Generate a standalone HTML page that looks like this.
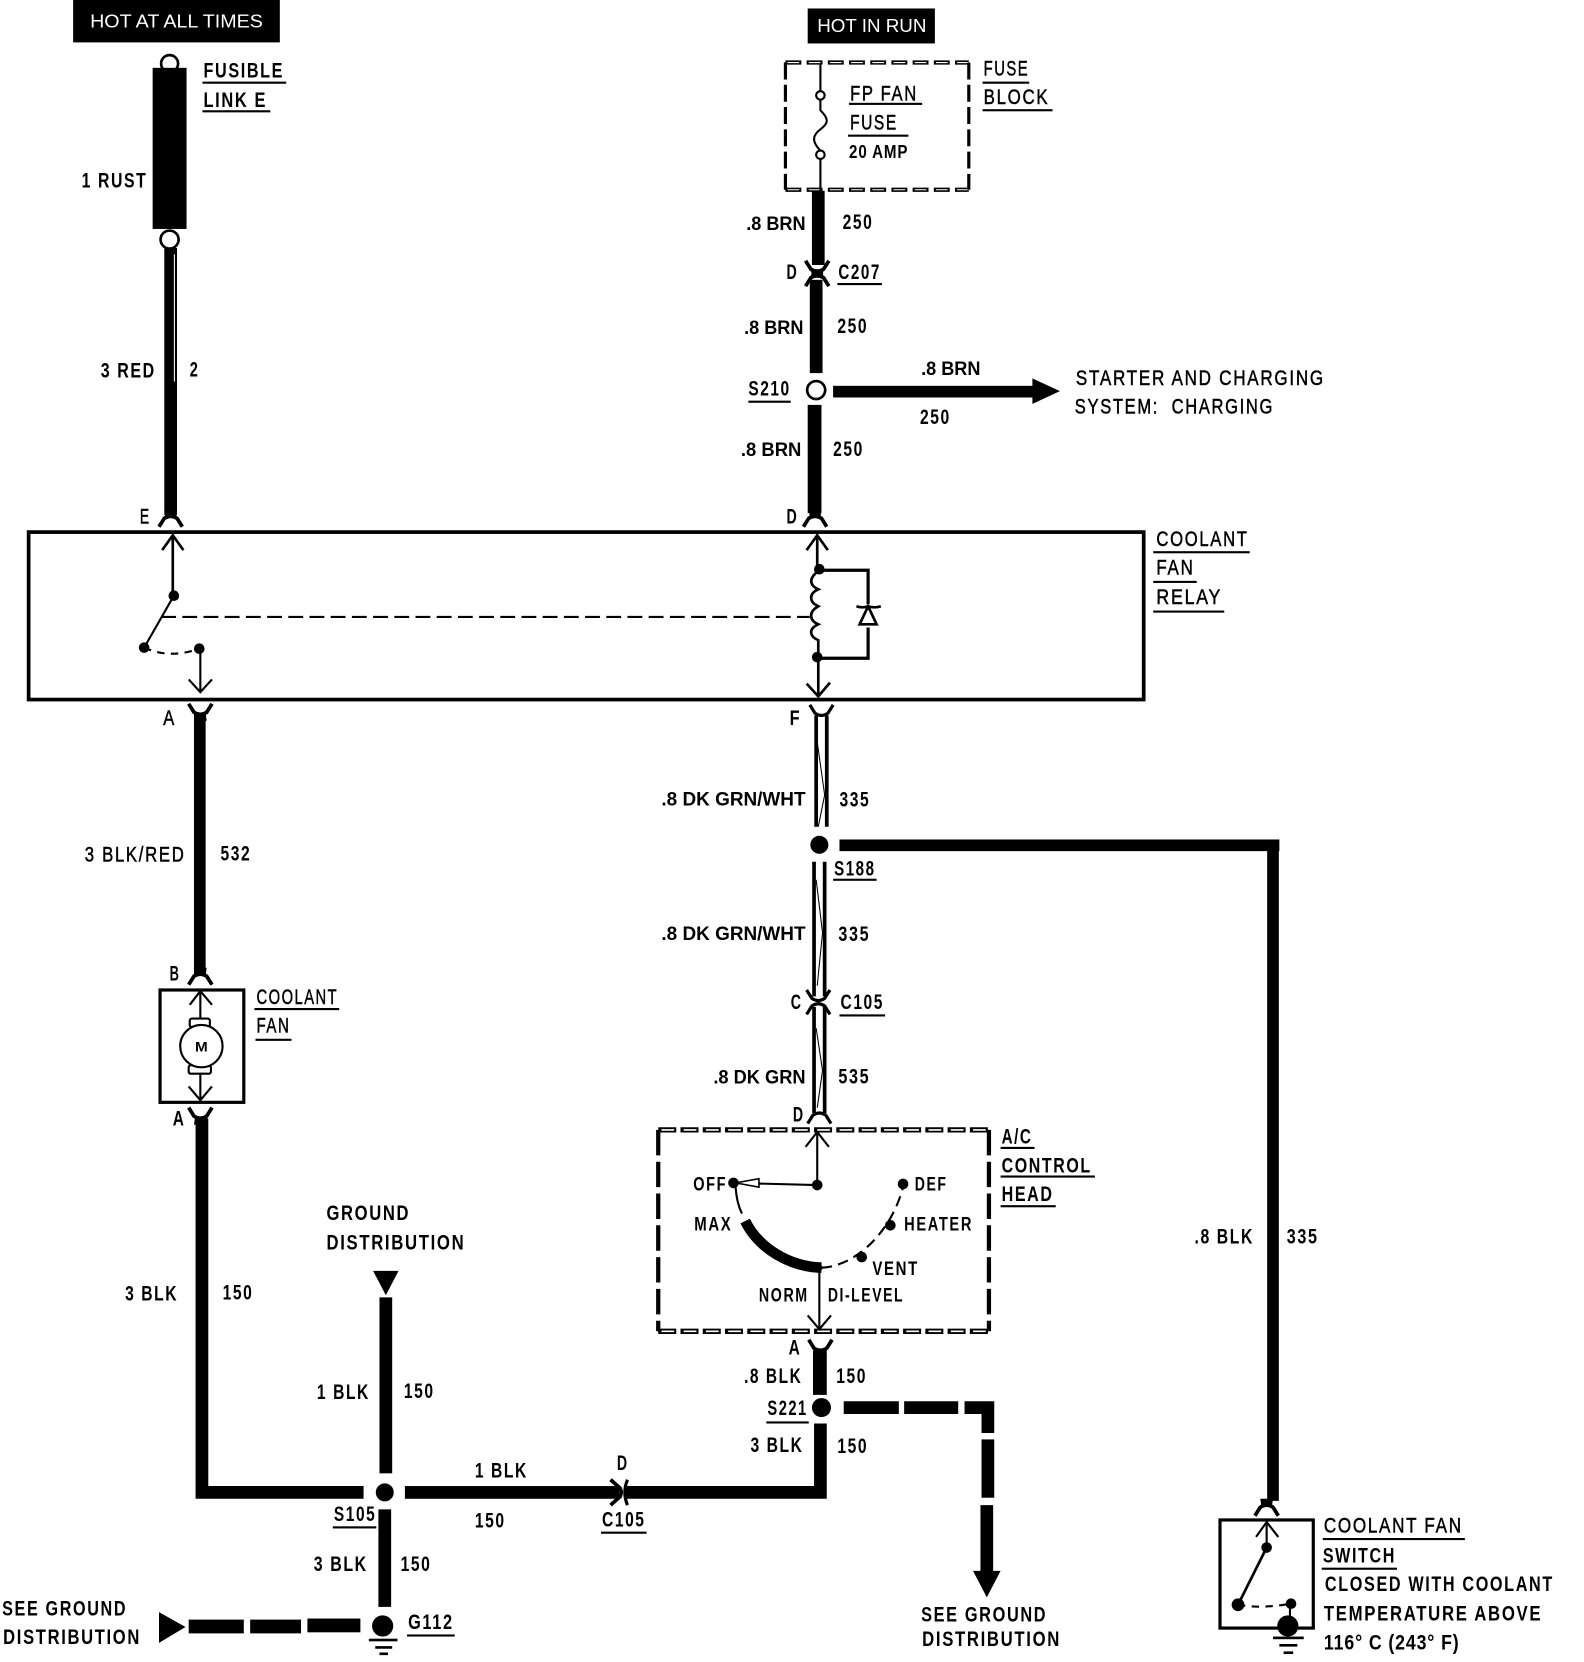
<!DOCTYPE html>
<html><head><meta charset="utf-8"><title>Coolant fan wiring</title>
<style>
html,body{margin:0;padding:0;background:#fff}
svg{display:block}
text{font-family:"Liberation Sans",sans-serif;font-size:20px;font-weight:bold;fill:#000;letter-spacing:2px}
text.n{font-weight:normal;stroke:#000;stroke-width:.45}
text.p{letter-spacing:0;font-size:18px}
.w{stroke:#000;fill:none}
</style></head><body>
<svg width="1584" height="1662" viewBox="0 0 1494.4 1568" xmlns="http://www.w3.org/2000/svg">
<defs>
<g id="dn"><path d="M-11,7 L-6,-1 Q0,-5 6,-1 L11,7" fill="none" stroke="#000" stroke-width="3.5"/><path d="M-6,-9H6L5,-2H-5Z" fill="#000"/></g>
<g id="up"><path d="M-11,-7 L-6,1 Q0,5 6,1 L11,-7" fill="none" stroke="#000" stroke-width="3.5"/><path d="M-6,9H6L5,2H-5Z" fill="#000"/></g>
<g id="dnh"><path d="M-11,7 L-6,-1 Q0,-5 6,-1 L11,7" fill="none" stroke="#000" stroke-width="3"/></g>
<g id="uph"><path d="M-11,-7 L-6,1 Q0,5 6,1 L11,-7" fill="none" stroke="#000" stroke-width="3"/></g>
</defs>
<rect width="1494.4" height="1568" fill="#fff"/>

<!-- top labels -->
<rect x="69" y="0" width="195" height="40" fill="#000"/>
<text x="85" y="26" textLength="163" lengthAdjust="spacingAndGlyphs" style="fill:#fff;font-size:17px;font-weight:normal;letter-spacing:0">HOT AT ALL TIMES</text>
<rect x="762" y="8" width="120" height="33" fill="#000"/>
<text x="771" y="30" textLength="103" lengthAdjust="spacingAndGlyphs" style="fill:#fff;font-size:17px;font-weight:normal;letter-spacing:0">HOT IN RUN</text>

<!-- fusible link -->
<circle cx="160" cy="60" r="8" fill="#fff" stroke="#000" stroke-width="2.5"/>
<rect x="144" y="64" width="32" height="152" fill="#000"/>
<circle cx="160" cy="226" r="8.5" fill="#fff" stroke="#000" stroke-width="2.5"/>
<rect x="155" y="234" width="12" height="252" fill="#000"/>
<line x1="164.5" y1="240" x2="164.5" y2="360" stroke="#fff" stroke-width="1"/>
<use href="#dn" x="161" y="490"/>
<text x="192" y="73" textLength="76" lengthAdjust="spacingAndGlyphs">FUSIBLE</text>
<rect x="191" y="77" width="79" height="2"/>
<text x="192" y="101" textLength="60" lengthAdjust="spacingAndGlyphs">LINK E</text>
<rect x="191" y="104" width="64" height="2"/>
<text x="77" y="177" textLength="62" lengthAdjust="spacingAndGlyphs">1 RUST</text>
<text x="95" y="356" textLength="52" lengthAdjust="spacingAndGlyphs">3 RED</text>
<text x="179" y="355" textLength="9" lengthAdjust="spacingAndGlyphs">2</text>
<text class="n" x="132" y="494" textLength="10" lengthAdjust="spacingAndGlyphs">E</text>

<!-- fuse block -->
<path d="M741,59H914M741,179H914" class="w" stroke-width="4" stroke-dasharray="15 5"/>
<path d="M741,59H914M741,179H914" stroke="#fff" fill="none" stroke-width="1" stroke-dasharray="11 9" stroke-dashoffset="-2"/>
<path d="M741,59V179M914,59V179" class="w" stroke-width="3" stroke-dasharray="16 5"/>
<path d="M774,60V86M774,94 V104 C782,112 782,116 774,122 C766,128 766,134 774,142 M774,150V180" class="w" stroke-width="2"/>
<circle cx="774" cy="90" r="4" fill="#fff" stroke="#000" stroke-width="2"/>
<circle cx="774" cy="146" r="4" fill="#fff" stroke="#000" stroke-width="2"/>
<text class="n" x="802" y="95" textLength="64" lengthAdjust="spacingAndGlyphs">FP FAN</text>
<rect x="801" y="97" width="69" height="2"/>
<text class="n" x="802" y="122" textLength="45" lengthAdjust="spacingAndGlyphs">FUSE</text>
<rect x="800" y="127" width="57" height="2"/>
<text x="801" y="149" textLength="56" lengthAdjust="spacingAndGlyphs" style="font-size:17px;letter-spacing:1px">20 AMP</text>
<text class="n" x="928" y="71" textLength="43" lengthAdjust="spacingAndGlyphs">FUSE</text>
<rect x="927" y="77" width="44" height="2"/>
<text class="n" x="928" y="98" textLength="62" lengthAdjust="spacingAndGlyphs">BLOCK</text>
<rect x="927" y="103" width="66" height="2"/>

<!-- brown wires -->
<rect x="766" y="180" width="12" height="70" fill="#000"/>
<use href="#up" x="771" y="253"/>
<use href="#dn" x="771" y="263"/>
<rect x="764" y="264" width="12" height="88" fill="#000"/>
<circle cx="770" cy="368" r="8.5" fill="#fff" stroke="#000" stroke-width="2.5"/>
<rect x="762" y="382" width="13" height="102" fill="#000"/>
<use href="#dn" x="769" y="490"/>
<text class="p" x="704" y="217" textLength="56" lengthAdjust="spacingAndGlyphs">.8 BRN</text>
<text x="795" y="216" textLength="29" lengthAdjust="spacingAndGlyphs">250</text>
<text x="742" y="263" textLength="11" lengthAdjust="spacingAndGlyphs">D</text>
<text x="791" y="263" textLength="40" lengthAdjust="spacingAndGlyphs">C207</text>
<rect x="790" y="267" width="42" height="2"/>
<text class="p" x="702" y="315" textLength="56" lengthAdjust="spacingAndGlyphs">.8 BRN</text>
<text x="790" y="314" textLength="29" lengthAdjust="spacingAndGlyphs">250</text>
<text x="706" y="373" textLength="40" lengthAdjust="spacingAndGlyphs">S210</text>
<rect x="706" y="378" width="40" height="2"/>
<text class="p" x="699" y="430" textLength="57" lengthAdjust="spacingAndGlyphs">.8 BRN</text>
<text x="786" y="430" textLength="29" lengthAdjust="spacingAndGlyphs">250</text>
<text x="742" y="494" textLength="11" lengthAdjust="spacingAndGlyphs">D</text>
<rect x="786" y="364" width="190" height="11" fill="#000"/>
<path d="M974,357 L1000,369 L974,381Z" fill="#000"/>
<text class="p" x="869" y="354" textLength="56" lengthAdjust="spacingAndGlyphs">.8 BRN</text>
<text x="868" y="400" textLength="29" lengthAdjust="spacingAndGlyphs">250</text>
<text class="n" x="1015" y="363" textLength="235" lengthAdjust="spacingAndGlyphs">STARTER AND CHARGING</text>
<text class="n" x="1014" y="390" textLength="188" lengthAdjust="spacingAndGlyphs">SYSTEM:&#160;&#160;CHARGING</text>

<!-- relay -->
<rect x="27" y="502" width="1052" height="158" fill="none" stroke="#000" stroke-width="3.5"/>
<text class="n" x="1091" y="515" textLength="87" lengthAdjust="spacingAndGlyphs">COOLANT</text>
<rect x="1088" y="520" width="91" height="2"/>
<text class="n" x="1091" y="542" textLength="36" lengthAdjust="spacingAndGlyphs">FAN</text>
<rect x="1088" y="548" width="41" height="2"/>
<text class="n" x="1091" y="570" textLength="62" lengthAdjust="spacingAndGlyphs">RELAY</text>
<rect x="1088" y="576" width="67" height="2"/>
<path d="M163,562V506M153,519L163,505L173,519" class="w" stroke-width="2.5"/>
<path d="M164,562L136,611" class="w" stroke-width="2"/>
<circle cx="164" cy="562" r="5"/><circle cx="136" cy="611" r="5"/><circle cx="188" cy="612" r="5"/>
<path d="M136,611 Q160,622 188,612" class="w" stroke-width="2" stroke-dasharray="7 6"/>
<path d="M189,612V653M178,641L189,653L200,641" class="w" stroke-width="2"/>
<path d="M152,582H764" class="w" stroke-width="2" stroke-dasharray="14 6"/>
<path d="M771,537V506M761,519L771,505L781,519" class="w" stroke-width="2.5"/>
<path d="M773,538 C763,545 763,552 772,556 C763,560 763,568 772,572 C763,577 763,585 772,589 C763,593 763,600 772,604 L772,621 V656 M761,645L772,657L783,644" class="w" stroke-width="2.5"/>
<circle cx="773" cy="537" r="5"/><circle cx="771" cy="620" r="5"/>
<path d="M773,538H819V570M819,592V621H771" class="w" stroke-width="3"/>
<path d="M808,572 Q814,574 819,572 Q825,574 831,572 M819,572 L811,589 H827Z" class="w" stroke-width="2.5"/>

<!-- blk/red -->
<use href="#up" x="189" y="671"/>
<rect x="183" y="673" width="11" height="246" fill="#000"/>
<use href="#dn" x="189" y="922"/>
<text class="n" x="154" y="684" textLength="12" lengthAdjust="spacingAndGlyphs">A</text>
<text class="n" x="80" y="813" textLength="95" lengthAdjust="spacingAndGlyphs">3 BLK/RED</text>
<text x="208" y="812" textLength="29" lengthAdjust="spacingAndGlyphs">532</text>
<text x="160" y="925" textLength="10" lengthAdjust="spacingAndGlyphs">B</text>

<!-- fan -->
<rect x="151" y="934" width="79" height="106" fill="none" stroke="#000" stroke-width="3"/>
<path d="M189,964V936M179,948L189,935L200,948M189,1010V1038M178,1025L189,1038L200,1025" class="w" stroke-width="2"/>
<rect x="179" y="961" width="19" height="8" rx="2" fill="#fff" stroke="#000" stroke-width="2"/>
<rect x="178" y="1005" width="21" height="8" rx="2" fill="#fff" stroke="#000" stroke-width="2"/>
<circle cx="190" cy="987" r="20" fill="#fff" stroke="#000" stroke-width="2"/>
<text x="184" y="992" textLength="12" lengthAdjust="spacingAndGlyphs" style="font-size:13px;letter-spacing:0">M</text>
<text class="n" x="242" y="947" textLength="77" lengthAdjust="spacingAndGlyphs">COOLANT</text>
<rect x="240" y="951" width="80" height="2"/>
<text class="n" x="242" y="974" textLength="32" lengthAdjust="spacingAndGlyphs">FAN</text>
<rect x="241" y="980" width="34" height="2"/>
<use href="#up" x="189" y="1052"/>
<text x="163" y="1062" textLength="12" lengthAdjust="spacingAndGlyphs">A</text>
<path d="M190.5,1055V1408H343" class="w" stroke-width="12"/>
<text x="118" y="1227" textLength="50" lengthAdjust="spacingAndGlyphs">3 BLK</text>
<text x="210" y="1226" textLength="29" lengthAdjust="spacingAndGlyphs">150</text>

<!-- ground distribution -->
<text x="308" y="1151" textLength="79" lengthAdjust="spacingAndGlyphs">GROUND</text>
<text x="308" y="1179" textLength="131" lengthAdjust="spacingAndGlyphs">DISTRIBUTION</text>
<path d="M352,1199H376L364,1222Z" fill="#000"/>
<rect x="358" y="1224" width="12" height="166" fill="#000"/>
<text x="299" y="1320" textLength="50" lengthAdjust="spacingAndGlyphs">1 BLK</text>
<text x="381" y="1319" textLength="29" lengthAdjust="spacingAndGlyphs">150</text>
<circle cx="363" cy="1408" r="8.5"/>
<text x="315" y="1435" textLength="40" lengthAdjust="spacingAndGlyphs">S105</text>
<rect x="314" y="1440" width="41" height="2"/>
<rect x="357" y="1424" width="12" height="92" fill="#000"/>
<text x="296" y="1482" textLength="51" lengthAdjust="spacingAndGlyphs">3 BLK</text>
<text x="378" y="1482" textLength="29" lengthAdjust="spacingAndGlyphs">150</text>
<circle cx="361" cy="1534" r="10"/>
<rect x="348" y="1546" width="27" height="2.5"/><rect x="354" y="1553" width="16" height="2.5"/><rect x="358" y="1559" width="8" height="2.5"/>
<text x="385" y="1537" textLength="43" lengthAdjust="spacingAndGlyphs">G112</text>
<rect x="384" y="1542" width="45" height="2"/>
<text x="2" y="1524" textLength="118" lengthAdjust="spacingAndGlyphs">SEE GROUND</text>
<text x="3" y="1551" textLength="130" lengthAdjust="spacingAndGlyphs">DISTRIBUTION</text>
<path d="M150,1521L175,1535L150,1550Z" fill="#000"/>
<rect x="178" y="1528" width="52" height="13"/><rect x="236" y="1528" width="48" height="13"/><rect x="290" y="1527" width="50" height="13"/>

<!-- horizontal to C105 -->
<rect x="382" y="1402" width="202" height="12"/>
<path d="M576,1396 L585,1404 Q587,1408 585,1412 L576,1420" class="w" stroke-width="3.5"/>
<path d="M592,1396 Q587,1408 592,1420" class="w" stroke-width="3"/>
<path d="M590,1408H774V1343" class="w" stroke-width="12"/>
<text x="448" y="1394" textLength="50" lengthAdjust="spacingAndGlyphs">1 BLK</text>
<text x="448" y="1441" textLength="29" lengthAdjust="spacingAndGlyphs">150</text>
<text x="582" y="1387" textLength="11" lengthAdjust="spacingAndGlyphs">D</text>
<text x="568" y="1440" textLength="41" lengthAdjust="spacingAndGlyphs">C105</text>
<rect x="567" y="1445" width="43" height="2"/>

<!-- dk grn/wht -->
<use href="#uph" x="775" y="672"/>
<path d="M770,675V780M780,675V780" class="w" stroke-width="3.5"/>
<path d="M771,700L778,750L772,780" class="w" stroke-width="1"/>
<text x="745" y="684" textLength="11" lengthAdjust="spacingAndGlyphs">F</text>
<text class="p" x="624" y="760" textLength="136" lengthAdjust="spacingAndGlyphs">.8 DK GRN/WHT</text>
<text x="792" y="761" textLength="29" lengthAdjust="spacingAndGlyphs">335</text>
<circle cx="773" cy="797" r="8.5"/>
<rect x="792" y="792" width="415" height="11"/>
<path d="M1201,797V1416" class="w" stroke-width="11"/>
<text x="787" y="826" textLength="39" lengthAdjust="spacingAndGlyphs">S188</text>
<rect x="786" y="829" width="41" height="2"/>
<path d="M768,813V940M778,813V940" class="w" stroke-width="3.5"/>
<path d="M770,830L776,880L771,930" class="w" stroke-width="1"/>
<text class="p" x="624" y="887" textLength="136" lengthAdjust="spacingAndGlyphs">.8 DK GRN/WHT</text>
<text x="791" y="888" textLength="30" lengthAdjust="spacingAndGlyphs">335</text>
<use href="#uph" x="772" y="941"/><use href="#dnh" x="772" y="950"/>
<text x="746" y="952" textLength="11" lengthAdjust="spacingAndGlyphs">C</text>
<text x="793" y="952" textLength="41" lengthAdjust="spacingAndGlyphs">C105</text>
<rect x="792" y="957" width="43" height="2"/>
<path d="M768,950V1050M778,950V1050" class="w" stroke-width="3.5"/>
<path d="M770,970L776,1010L771,1045" class="w" stroke-width="1"/>
<text class="p" x="673" y="1022" textLength="87" lengthAdjust="spacingAndGlyphs">.8 DK GRN</text>
<text x="791" y="1022" textLength="30" lengthAdjust="spacingAndGlyphs">535</text>
<text x="748" y="1058" textLength="11" lengthAdjust="spacingAndGlyphs">D</text>
<use href="#dnh" x="773" y="1053"/>

<!-- A/C head -->
<path d="M621,1066H933M621,1256H933" class="w" stroke-width="5" stroke-dasharray="17 4"/>
<path d="M621,1066H933M621,1256H933" stroke="#fff" fill="none" stroke-width="1.5" stroke-dasharray="12 9" stroke-dashoffset="-3"/>
<path d="M621,1066V1256M933,1066V1256" class="w" stroke-width="4" stroke-dasharray="24 6"/>
<text x="945" y="1079" textLength="29" lengthAdjust="spacingAndGlyphs">A/C</text>
<rect x="944" y="1082" width="32" height="2"/>
<text x="945" y="1106" textLength="85" lengthAdjust="spacingAndGlyphs">CONTROL</text>
<rect x="944" y="1109" width="89" height="2"/>
<text x="945" y="1133" textLength="49" lengthAdjust="spacingAndGlyphs">HEAD</text>
<rect x="944" y="1137" width="52" height="2"/>
<path d="M771,1118V1070M760,1082L771,1068L782,1082" class="w" stroke-width="2"/>
<path d="M771,1118L692,1116" class="w" stroke-width="2"/>
<circle cx="771" cy="1118" r="5"/><circle cx="692" cy="1116" r="5"/>
<path d="M694,1116L716,1112V1120Z" fill="#fff" stroke="#000" stroke-width="1.5"/>
<path d="M694,1120Q695,1135 700,1145" class="w" stroke-width="2"/>
<path d="M703,1152 C716,1178 745,1195 775,1196" class="w" stroke-width="10"/>
<path d="M775,1196 C805,1195 840,1165 852,1120" class="w" stroke-width="2" stroke-dasharray="10 6"/>
<circle cx="852" cy="1117" r="5"/><circle cx="840" cy="1156" r="5"/><circle cx="813" cy="1186" r="5"/><circle cx="773" cy="1196" r="3"/>
<path d="M773,1196V1253M762,1241L773,1254L784,1241" class="w" stroke-width="2"/>
<text x="654" y="1123" textLength="32" lengthAdjust="spacingAndGlyphs" style="font-size:18px">OFF</text>
<text x="863" y="1123" textLength="31" lengthAdjust="spacingAndGlyphs" style="font-size:18px">DEF</text>
<text x="655" y="1161" textLength="36" lengthAdjust="spacingAndGlyphs" style="font-size:18px">MAX</text>
<text x="853" y="1161" textLength="65" lengthAdjust="spacingAndGlyphs" style="font-size:18px">HEATER</text>
<text x="823" y="1203" textLength="44" lengthAdjust="spacingAndGlyphs" style="font-size:18px">VENT</text>
<text x="716" y="1228" textLength="47" lengthAdjust="spacingAndGlyphs" style="font-size:18px">NORM</text>
<text x="781" y="1228" textLength="72" lengthAdjust="spacingAndGlyphs" style="font-size:18px">DI-LEVEL</text>
<text x="744" y="1278" textLength="12" lengthAdjust="spacingAndGlyphs">A</text>
<use href="#up" x="774" y="1271"/>
<rect x="767" y="1274" width="13" height="42"/>
<text x="702" y="1305" textLength="55" lengthAdjust="spacingAndGlyphs">.8 BLK</text>
<text x="789" y="1305" textLength="29" lengthAdjust="spacingAndGlyphs">150</text>
<text x="724" y="1335" textLength="38" lengthAdjust="spacingAndGlyphs">S221</text>
<rect x="723" y="1341" width="40" height="2"/>
<circle cx="775" cy="1328" r="9"/>
<text x="708" y="1370" textLength="50" lengthAdjust="spacingAndGlyphs">3 BLK</text>
<text x="790" y="1371" textLength="29" lengthAdjust="spacingAndGlyphs">150</text>

<!-- dashed to ground -->
<rect x="796" y="1322" width="52" height="12"/><rect x="853" y="1322" width="51" height="12"/>
<path d="M910,1328H932V1352" class="w" stroke-width="12"/>
<rect x="926" y="1358" width="12" height="55"/>
<rect x="925" y="1420" width="12" height="65"/>
<path d="M918,1482H944L931,1507Z" fill="#000"/>
<text x="869" y="1530" textLength="119" lengthAdjust="spacingAndGlyphs">SEE GROUND</text>
<text x="870" y="1553" textLength="131" lengthAdjust="spacingAndGlyphs">DISTRIBUTION</text>
<text x="1127" y="1173" textLength="56" lengthAdjust="spacingAndGlyphs">.8 BLK</text>
<text x="1214" y="1173" textLength="30" lengthAdjust="spacingAndGlyphs">335</text>

<!-- fan switch -->
<use href="#dn" x="1195" y="1423"/>
<rect x="1151" y="1434" width="88" height="102" fill="none" stroke="#000" stroke-width="3"/>
<path d="M1195,1460V1438M1185,1450L1195,1436L1206,1450" class="w" stroke-width="2"/>
<path d="M1195,1460L1168,1514" class="w" stroke-width="2.5"/>
<circle cx="1195" cy="1460" r="5"/><circle cx="1168" cy="1514" r="6"/><circle cx="1218" cy="1513" r="5"/>
<path d="M1168,1514 Q1190,1518 1218,1513" class="w" stroke-width="2" stroke-dasharray="7 6"/>
<path d="M1217,1513V1530" class="w" stroke-width="2"/>
<circle cx="1215" cy="1534" r="10"/>
<rect x="1201" y="1544" width="29" height="2.5"/><rect x="1207" y="1551" width="17" height="2.5"/><rect x="1211" y="1558" width="9" height="2.5"/>
<text class="n" x="1249" y="1446" textLength="131" lengthAdjust="spacingAndGlyphs">COOLANT FAN</text>
<rect x="1248" y="1451" width="134" height="2"/>
<text x="1248" y="1474" textLength="69" lengthAdjust="spacingAndGlyphs">SWITCH</text>
<rect x="1247" y="1479" width="71" height="2"/>
<text x="1250" y="1501" textLength="216" lengthAdjust="spacingAndGlyphs">CLOSED WITH COOLANT</text>
<text x="1249" y="1529" textLength="206" lengthAdjust="spacingAndGlyphs">TEMPERATURE ABOVE</text>
<text x="1249" y="1556" textLength="128" lengthAdjust="spacingAndGlyphs" style="letter-spacing:1px">116° C (243° F)</text>
</svg>
</body></html>
